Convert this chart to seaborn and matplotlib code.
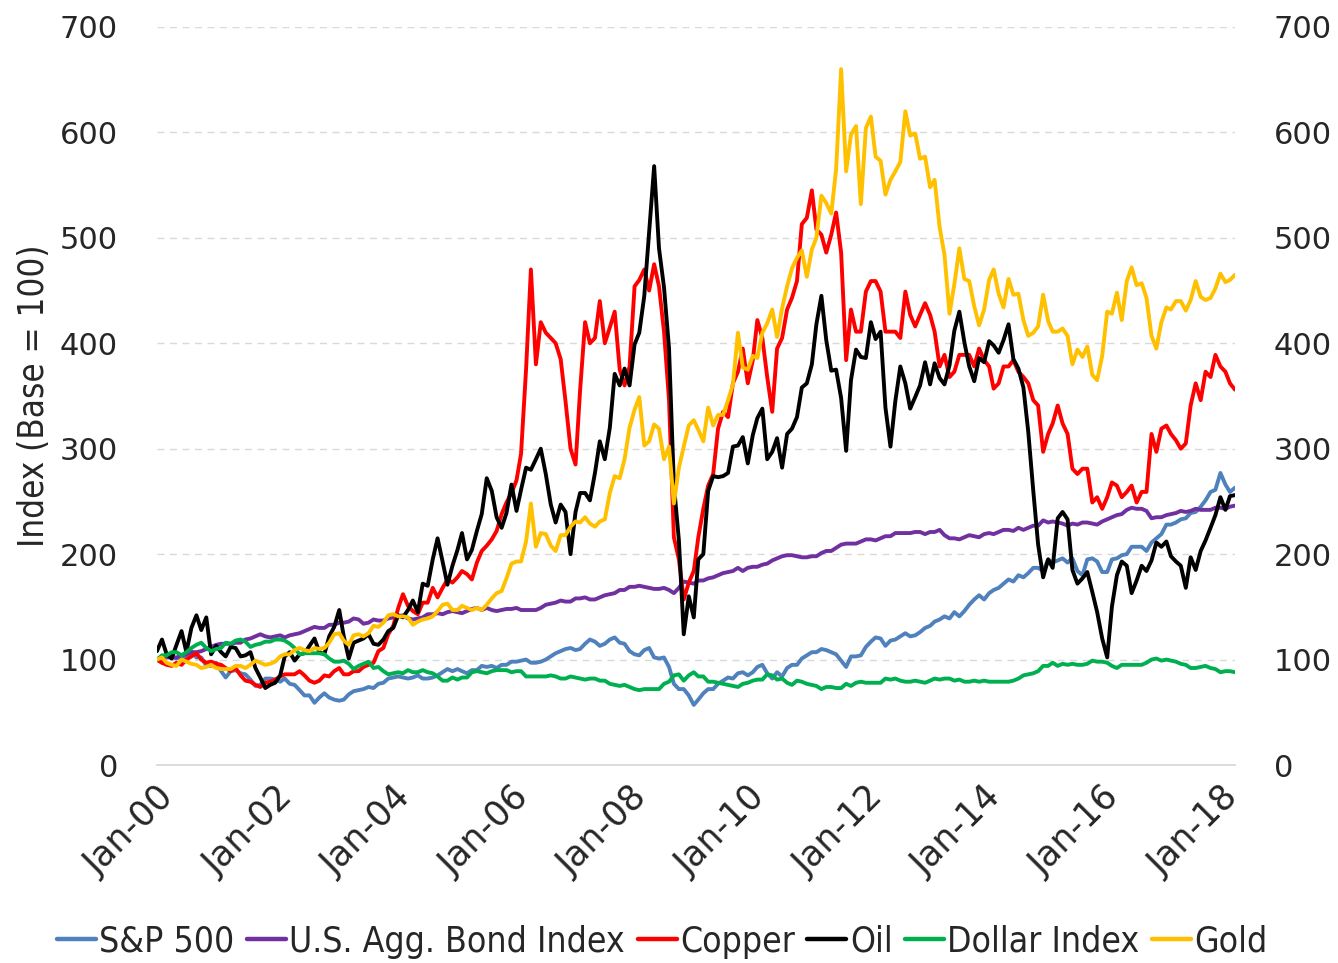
import numpy as np
import pandas as pd
import matplotlib
matplotlib.use("Agg")
import matplotlib.pyplot as plt
import matplotlib.dates as mdates
import seaborn as sns

# monthly points, Jan-2000 .. Apr-2018, base = 100
dates = pd.date_range("2000-01-01", "2018-04-01", freq="MS")

sp500 = [
    100, 97, 106, 103, 101, 103, 102, 108, 102, 102, 94, 94,
    97, 89, 83, 89, 90, 87, 86, 81, 75, 76, 82, 82,
    81, 79, 82, 77, 76, 71, 66, 66, 59, 64, 68, 64,
    62, 61, 62, 67, 70, 71, 72, 74, 73, 77, 78, 82,
    83, 84, 83, 82, 83, 85, 82, 82, 83, 85, 88, 91,
    89, 91, 89, 87, 90, 90, 94, 93, 94, 92, 95, 95,
    98, 98, 99, 100, 97, 97, 98, 100, 103, 106, 108, 110,
    111, 109, 110, 115, 119, 117, 113, 115, 119, 121, 116, 115,
    108, 105, 104, 109, 111, 102, 101, 102, 93, 77, 72, 72,
    66, 57, 62, 68, 72, 72, 77, 80, 83, 82, 87, 88,
    85, 88, 93, 95, 87, 82, 88, 84, 92, 95, 95, 101,
    104, 107, 107, 110, 109, 107, 105, 99, 93, 103, 103, 104,
    112, 117, 121, 120, 113, 118, 119, 122, 125, 122, 123, 126,
    130, 132, 136, 138, 141, 139, 145, 141, 146, 152, 157, 161,
    157, 163, 166, 168, 172, 176, 174, 180, 178, 182, 187, 187,
    184, 195, 192, 194, 196, 192, 196, 184, 180, 195, 196, 193,
    183, 183, 195, 196, 199, 200, 207, 207, 207, 203, 211, 215,
    219, 228, 228, 230, 233, 234, 239, 240, 245, 251, 259, 261,
    277, 266, 259, 263,
]

bond = [
    100, 101, 102, 102, 102, 104, 105, 107, 107, 108, 110, 112,
    114, 115, 115, 115, 116, 116, 119, 120, 122, 124, 122, 121,
    122, 123, 121, 123, 124, 125, 127, 129, 131, 130, 130, 133,
    133, 135, 135, 136, 139, 138, 134, 135, 138, 137, 137, 139,
    140, 141, 142, 139, 138, 139, 140, 143, 143, 144, 143, 145,
    146, 145, 144, 146, 148, 149, 147, 149, 147, 146, 147, 148,
    148, 149, 147, 147, 147, 147, 149, 152, 153, 154, 156, 155,
    155, 158, 158, 159, 157, 157, 159, 161, 162, 163, 166, 166,
    169, 169, 170, 169, 168, 167, 167, 168, 166, 163, 168, 174,
    173, 172, 175, 175, 177, 178, 180, 182, 183, 184, 187, 184,
    187, 188, 188, 190, 191, 194, 196, 198, 199, 199, 198, 197,
    197, 198, 198, 201, 203, 203, 206, 209, 210, 210, 210, 212,
    214, 214, 213, 215, 217, 217, 220, 220, 220, 220, 221, 221,
    219, 221, 221, 223, 218, 215, 215, 214, 216, 218, 217, 216,
    219, 220, 219, 221, 223, 223, 222, 225, 223, 225, 227, 227,
    232, 230, 231, 230, 229, 227, 229, 228, 230, 230, 229, 228,
    231, 233, 235, 237, 238, 242, 244, 243, 243, 241, 234, 235,
    235, 237, 238, 239, 241, 240, 241, 243, 242, 242, 242, 244,
    244, 243, 245, 246,
]

copper = [
    100, 97, 95, 94, 97, 95, 100, 103, 106, 100, 97, 98,
    96, 95, 92, 89, 92, 85, 80, 79, 76, 74, 78, 79,
    81, 84, 86, 86, 86, 89, 85, 80, 78, 80, 85, 84,
    89, 92, 86, 86, 89, 89, 93, 95, 97, 108, 111, 124,
    132, 149, 162, 151, 146, 143, 154, 154, 168, 159, 168, 176,
    173, 178, 184, 181, 176, 192, 203, 208, 214, 222, 238, 249,
    258, 270, 295, 375, 470, 380, 420, 410, 405, 400, 385, 345,
    300, 285, 355, 420, 400, 405, 440, 400, 415, 430, 375, 360,
    378, 454, 460, 470, 450, 475, 454, 411, 346, 216, 195, 157,
    173, 184, 216, 243, 265, 276, 319, 335, 330, 362, 373, 395,
    362, 384, 422, 405, 368, 335, 395, 405, 432, 443, 459, 513,
    519, 545, 508, 503, 486, 503, 524, 486, 384, 432, 411, 411,
    449, 459, 459, 449, 411, 411, 411, 405, 449, 427, 416, 427,
    438, 427, 411, 378, 389, 368, 373, 389, 389, 389, 378, 395,
    384, 378, 357, 362, 378, 378, 384, 373, 368, 362, 346, 341,
    297, 314, 324, 341, 324, 314, 281, 276, 281, 281, 249, 254,
    243, 254, 268, 265, 254, 259, 265, 249, 259, 259, 314, 297,
    319, 322, 314, 308, 300, 305, 341, 362, 346, 373, 368, 389,
    378, 373, 362, 356,
]

oil = [
    108, 119, 105, 101, 114, 127, 107, 130, 142, 128, 140, 105,
    113, 107, 103, 112, 111, 103, 104, 107, 92, 83, 73, 76,
    78, 85, 103, 107, 99, 105, 106, 113, 120, 107, 105, 122,
    131, 147, 122, 101, 116, 118, 120, 124, 115, 114, 119, 127,
    130, 142, 140, 147, 156, 145, 172, 170, 195, 215, 193, 171,
    189, 204, 220, 195, 204, 222, 238, 272, 260, 235, 225, 239,
    266, 241, 261, 282, 280, 290, 300, 276, 247, 230, 247, 240,
    200, 240, 258, 258, 251, 277, 307, 290, 320, 371, 360, 376,
    360, 399, 410, 445, 505, 568, 490, 453, 395, 266, 213, 124,
    160, 140, 195, 200, 260, 274, 273, 274, 277, 302, 303, 311,
    286, 313, 329, 338, 290, 297, 310, 282, 314, 319, 330, 358,
    362, 380, 418, 445, 403, 374, 375, 348, 298, 365, 394, 387,
    386, 420, 404, 411, 339, 302, 345, 378, 362, 338, 349, 360,
    382, 361, 381, 367, 361, 379, 412, 430, 401, 378, 364, 386,
    382, 402, 398, 391, 403, 418, 385, 376, 358, 316, 260, 209,
    178, 195, 187, 234, 240, 233, 185, 172, 177, 183, 164, 145,
    120, 102, 150, 180, 193, 189, 163, 175, 189, 184, 194, 211,
    207, 212, 198, 193, 189, 168, 197, 185, 203, 213, 225, 237,
    254, 242, 255, 256,
]

dollar = [
    100, 104, 104, 107, 107, 104, 107, 111, 114, 116, 111, 108,
    110, 111, 116, 115, 118, 119, 117, 112, 114, 115, 117, 117,
    119, 119, 118, 115, 111, 105, 106, 106, 106, 106, 105, 101,
    98, 98, 99, 96, 91, 94, 96, 98, 92, 93, 89, 86,
    87, 88, 87, 90, 88, 88, 90, 88, 87, 84, 80, 80,
    83, 81, 83, 83, 88, 89, 88, 87, 89, 90, 90, 90,
    88, 89, 89, 84, 84, 84, 84, 84, 85, 84, 82, 82,
    84, 83, 82, 81, 82, 82, 80, 80, 77, 76, 75, 76,
    74, 72, 71, 72, 72, 72, 72, 77, 79, 85, 86, 80,
    85, 88, 84, 84, 79, 79, 78, 77, 76, 75, 74, 77,
    78, 80, 81, 81, 86, 85, 81, 82, 78, 76, 80, 79,
    77, 76, 75, 72, 74, 74, 73, 73, 77, 75, 78, 79,
    78, 78, 78, 78, 82, 81, 82, 80, 79, 79, 80, 79,
    78, 80, 82, 81, 82, 82, 80, 81, 79, 79, 80, 79,
    80, 79, 79, 79, 79, 79, 80, 82, 85, 86, 87, 89,
    94, 94, 97, 94, 96, 95, 96, 95, 95, 96, 99, 98,
    98, 97, 94, 92, 95, 95, 95, 95, 95, 97, 100, 101,
    99, 100, 99, 98, 96, 95, 92, 92, 93, 94, 92, 91,
    88, 89, 89, 88,
]

gold = [
    100, 102, 97, 95, 94, 100, 98, 96, 95, 92, 93, 95,
    92, 91, 91, 91, 94, 94, 92, 95, 99, 97, 95, 96,
    98, 103, 105, 105, 109, 111, 109, 108, 111, 110, 111, 116,
    124, 125, 118, 114, 123, 124, 122, 125, 132, 131, 135, 142,
    143, 141, 141, 140, 133, 136, 138, 139, 141, 146, 152, 153,
    147, 147, 151, 149, 147, 149, 147, 152, 158, 163, 165, 177,
    191, 193, 193, 212, 248, 207, 220, 219, 208, 203, 218, 218,
    226, 231, 230, 235, 229, 226, 231, 233, 258, 274, 272, 290,
    320, 337, 349, 303, 307, 323, 319, 290, 302, 248, 282, 302,
    322, 327, 318, 307, 339, 322, 332, 332, 346, 361, 410, 377,
    375, 388, 386, 410, 419, 432, 406, 433, 454, 471, 481, 488,
    463, 489, 500, 540, 533, 523, 565, 660, 563, 598, 606, 532,
    604, 615, 577, 573, 541, 555, 563, 572, 620, 597, 599, 575,
    577, 548, 555, 510, 484, 428, 456, 490, 461, 459, 435, 417,
    432, 460, 470, 447, 434, 461, 446, 447, 422, 407, 410, 416,
    446, 421, 411, 411, 414, 407, 380, 394, 387, 397, 370, 365,
    388, 430, 428, 448, 422, 459, 472, 455, 457, 443, 407, 395,
    420, 434, 432, 440, 440, 431, 441, 459, 444, 441, 443, 452,
    466, 458, 460, 465,
]

names = ["S&P 500", "U.S. Agg. Bond Index", "Copper", "Oil", "Dollar Index", "Gold"]
colors = ["#4F81BD", "#7030A0", "#FF0000", "#000000", "#00B050", "#FFC000"]

df = pd.DataFrame(
    dict(zip(names, [sp500, bond, copper, oil, dollar, gold])),
    index=dates,
)
long = (
    df.reset_index(names="date")
    .melt(id_vars="date", var_name="series", value_name="value")
)

sns.set_style("white")
plt.rcParams["font.family"] = ["DejaVu Sans"]

fig, ax = plt.subplots(figsize=(13.38, 9.63), dpi=100)
fig.subplots_adjust(left=0.1173, right=0.923, top=0.972, bottom=0.2056)

sns.lineplot(
    data=long,
    x="date",
    y="value",
    hue="series",
    hue_order=names,
    palette=colors,
    linewidth=2.8,
    ax=ax,
)

ax.set_xlim(dates[0], dates[-1])
ax.set_ylim(0, 700)
ax.set_yticks(range(0, 701, 100))
ax.set_xticks(pd.date_range("2000-01-01", "2018-01-01", freq="2YS"))
ax.xaxis.set_major_formatter(mdates.DateFormatter("%b-%y"))

ax.yaxis.grid(True, linestyle=(0, (5, 4)), color="#d9d9d9", linewidth=1)
ax.set_axisbelow(True)
for side in ["top", "left", "right"]:
    ax.spines[side].set_visible(False)
ax.spines["bottom"].set_color("#d9d9d9")
ax.spines["bottom"].set_linewidth(1.3)

ax.tick_params(axis="y", length=0, labelleft=True, labelright=True,
               labelsize=22, pad=28)
ax.tick_params(axis="x", length=7, width=1.3, color="#d9d9d9",
               labelsize=25, pad=4)
for lbl in ax.get_xticklabels():
    lbl.set_rotation(45)
    lbl.set_ha("right")
    lbl.set_rotation_mode("anchor")

ax.set_xlabel("")
ax.set_ylabel("Index (Base = 100)", fontsize=25, fontstretch="condensed",
              labelpad=6)

handles, labels = ax.get_legend_handles_labels()
ax.legend_.remove()
fig.legend(
    handles,
    labels,
    loc="center",
    bbox_to_anchor=(0.495, 0.022),
    ncol=6,
    frameon=False,
    prop={"size": 25.5, "stretch": "condensed"},
    handlelength=1.1,
    handletextpad=0.1,
    columnspacing=0.35,
)
for h in fig.legends[0].get_lines():
    h.set_linewidth(3.2)

fig.savefig("out.png", dpi=100)
